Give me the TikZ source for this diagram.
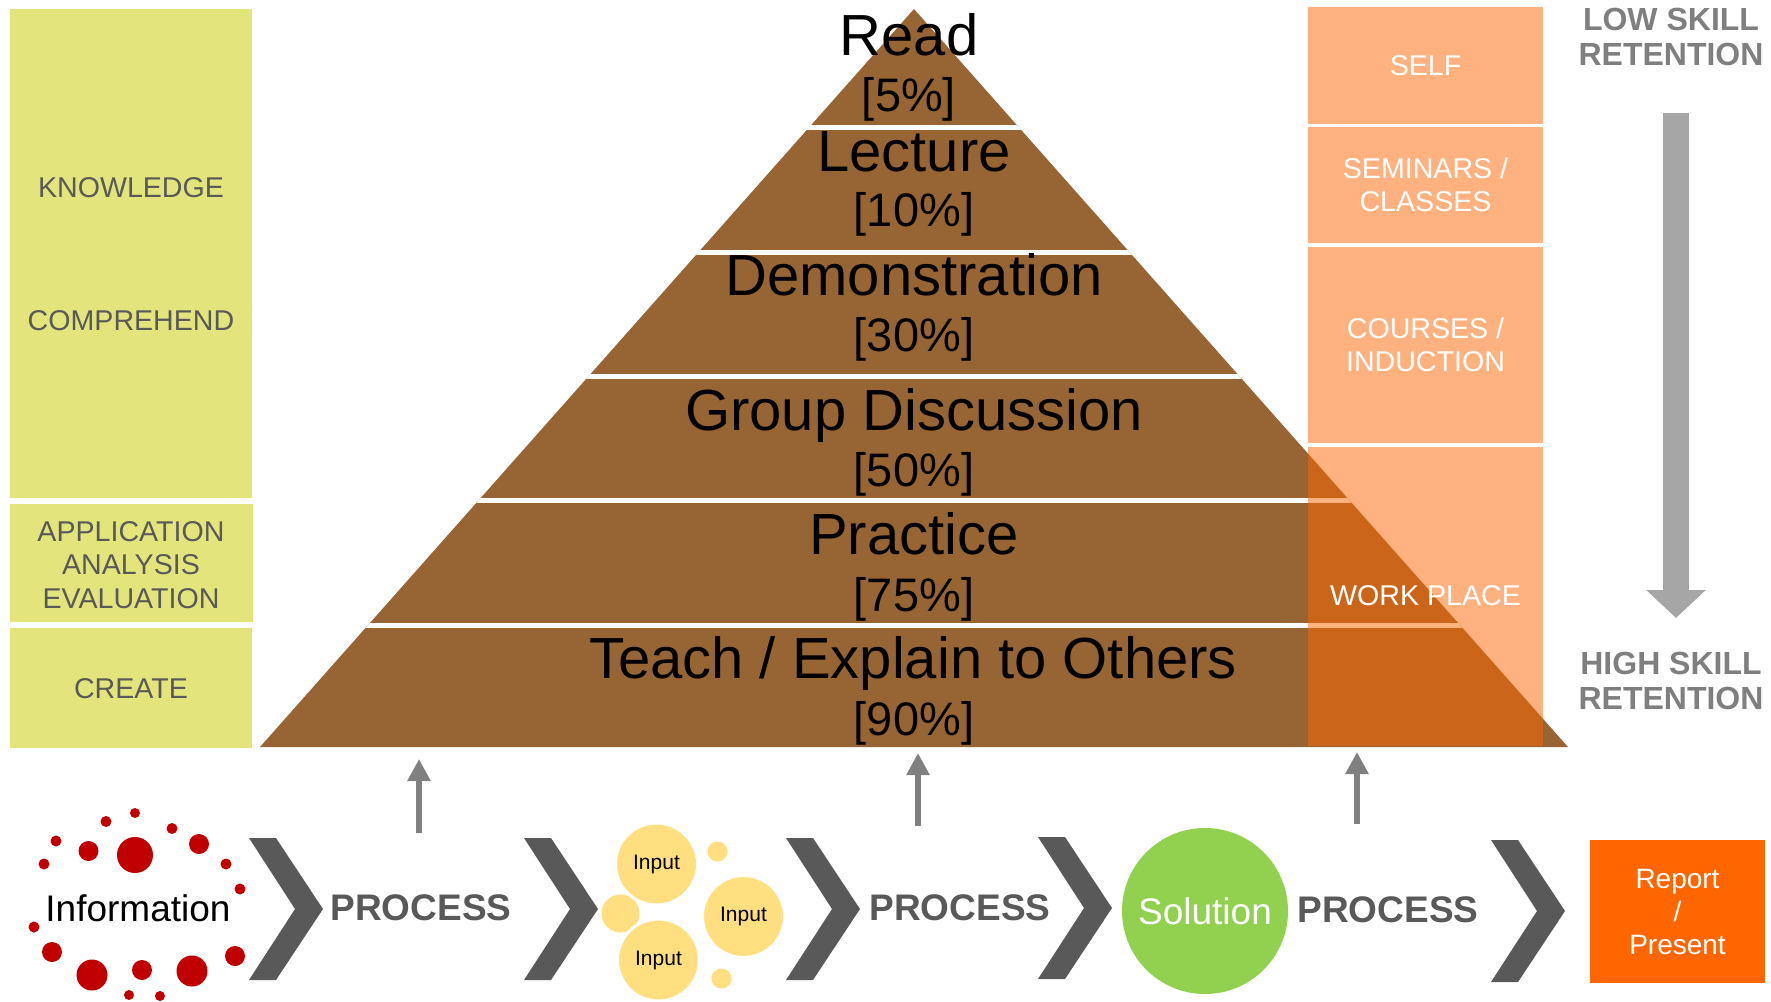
\documentclass[tikz,border=0pt]{standalone}
\usepackage{fontspec}
\setmainfont{Liberation Sans}
\usetikzlibrary{arrows.meta}
\definecolor{ylw}{HTML}{E4E47C}
\definecolor{dgray}{HTML}{595959}
\definecolor{brn}{HTML}{976534}
\definecolor{orng}{HTML}{FF6600}
\definecolor{lgray}{HTML}{7F7F7F}
\definecolor{agray}{HTML}{A6A6A6}
\definecolor{sgray}{HTML}{808080}
\definecolor{inp}{HTML}{FFDF80}
\definecolor{grn}{HTML}{92D050}
\definecolor{dred}{HTML}{C00000}
\begin{document}
\begin{tikzpicture}[x=0.5pt,y=-0.5pt,
  every node/.style={inner sep=0pt,outer sep=0pt},
  ltext/.style={text=dgray,font=\fontsize{14.3}{16.7}\selectfont,align=center},
  rtext/.style={text=white,font=\fontsize{14.3}{16.6}\selectfont,align=center},
  skill/.style={text=lgray,font=\bfseries\fontsize{16}{17.2}\selectfont,align=center},
  pname/.style={anchor=base,text=black,font=\fontsize{29}{32}\selectfont},
  ppct/.style={anchor=base,text=black,font=\fontsize{23.5}{26}\selectfont},
  ovl/.style={fill=orng,fill opacity=0.5},
  proc/.style={text=dgray,font=\bfseries\fontsize{18.5}{20}\selectfont},
  inbig/.style={circle,fill=inp,draw=white,line width=1.5pt,minimum size=41pt,font=\fontsize{10.5}{12}\selectfont},
  insmall/.style={circle,fill=inp},
  uparr/.style={draw=sgray,line width=3pt,-{Triangle[length=11pt,width=11pt]}},
  bigarr/.style={draw=agray,line width=13pt,-{Triangle[length=14pt,width=29pt]}},
  chev/.pic={\fill[dgray] (0,-71) -- (27,-71) -- (74,0) -- (27,71) -- (0,71) -- (46,0) -- cycle;}
]
\useasboundingbox (0,0) rectangle (1771,1001);

% left column
\fill[ylw] (10,9) rectangle (252,498);
\fill[ylw] (10,504) rectangle (253,622);
\fill[ylw] (10,628) rectangle (252,748);
\node[ltext] (know) at (131,187.5) {KNOWLEDGE};
\node[ltext] (comp) at (131,321) {COMPREHEND};
\node[ltext] (appl) at (131,565) {APPLICATION\\ANALYSIS\\EVALUATION};
\node[ltext] (crea) at (131,689) {CREATE};

% pyramid
\coordinate (apex) at (914,9);
\coordinate (bl) at (260,747);
\coordinate (br) at (1568,747);
\fill[brn] (apex) -- (bl) -- (br) -- cycle;
\begin{scope}
\clip (apex) -- (bl) -- (br) -- cycle;
\foreach \y in {127,252,376.5,500.5,625}
  \draw[white,line width=2.5pt] (200,\y) -- (1650,\y);
\end{scope}
\node[pname] (read) at (909,55) {Read};
\node[ppct] (p5) at (909,111) {[5\%]};
\node[pname] (lect) at (914,171) {Lecture};
\node[ppct] (p10) at (914,226) {[10\%]};
\node[pname] (demo) at (914,295) {Demonstration};
\node[ppct] (p30) at (914,351) {[30\%]};
\node[pname] (grp) at (914,430) {Group Discussion};
\node[ppct] (p50) at (914,486) {[50\%]};
\node[pname] (prac) at (914,554) {Practice};
\node[ppct] (p75) at (914,611) {[75\%]};
\node[pname] (teach) at (913,678) {Teach / Explain to Others};
\node[ppct] (p90) at (914,735) {[90\%]};

% right column
\fill[ovl] (1308,7) rectangle (1543,124);
\fill[ovl] (1308,127) rectangle (1543,243);
\fill[ovl] (1308,247) rectangle (1543,443);
\fill[ovl] (1308,447) rectangle (1543,746);
\node[rtext] (self) at (1425.5,66) {SELF};
\node[rtext] (semi) at (1425.5,185) {SEMINARS /\\CLASSES};
\node[rtext] (cour) at (1425.5,345) {COURSES /\\INDUCTION};
\node[rtext] (work) at (1425.5,596) {WORK PLACE};

% skill retention
\node[skill] (low) at (1671,37) {LOW SKILL\\RETENTION};
\node[skill] (high) at (1671,681) {HIGH SKILL\\RETENTION};
\coordinate (bas) at (1676,113);
\coordinate (bae) at (1676,618);
\draw[bigarr] (bas) -- (bae);

% up arrows
\coordinate (u1s) at (419,833); \coordinate (u1e) at (419,759);
\coordinate (u2s) at (918,826); \coordinate (u2e) at (918,753);
\coordinate (u3s) at (1357,824); \coordinate (u3e) at (1357,752);
\draw[uparr] (u1s) -- (u1e);
\draw[uparr] (u2s) -- (u2e);
\draw[uparr] (u3s) -- (u3e);

% information dots
\foreach \x/\y/\r in {135/813/5,106/821.5/5.5,172/828.5/5.5,56/841/5.5,88.5/851/10,135/855/18,
  199/844/10,44/864/5.5,226/864/5.5,240/889/5.5,34/927/5.5,52/952/10,92/975/15.5,
  142/970/10,192/971/15.5,235/956/10,129/995/5,160/996/5}
  \fill[dred] (\x,\y) circle (\r);
\node[font=\fontsize{18.5}{20}\selectfont] (info) at (138,908) {Information};

% chevrons
\pic at (249,909) {chev};
\pic at (524,909) {chev};
\pic at (786,909) {chev};
\pic at (1038,908) {chev};
\pic at (1491,911) {chev};

\node[proc] (pr1) at (421,908) {PROCESS};
\node[proc] (pr2) at (960,908) {PROCESS};
\node[proc] (pr3) at (1388,910) {PROCESS};

% inputs
\node[insmall,minimum size=19pt] (s1) at (620.5,913.5) {};
\node[insmall,minimum size=10pt] (s2) at (717.5,851.5) {};
\node[insmall,minimum size=10pt] (s3) at (721.5,978.5) {};
\node[inbig] (in1) at (656.5,864) {Input};
\node[inbig] (in2) at (743.5,916.5) {Input};
\node[inbig] (in3) at (658.5,960) {Input};

% solution
\node[circle,fill=grn,minimum size=83pt,text=white,font=\fontsize{18.5}{20}\selectfont] (sol) at (1205,911) {Solution};

% report
\node[fill=orng,minimum width=87.5pt,minimum height=71.5pt,text=white,align=center,
  font=\fontsize{14}{16.5}\selectfont] (rep) at (1677.5,911.5) {Report\\/\\Present};
\end{tikzpicture}
\end{document}
